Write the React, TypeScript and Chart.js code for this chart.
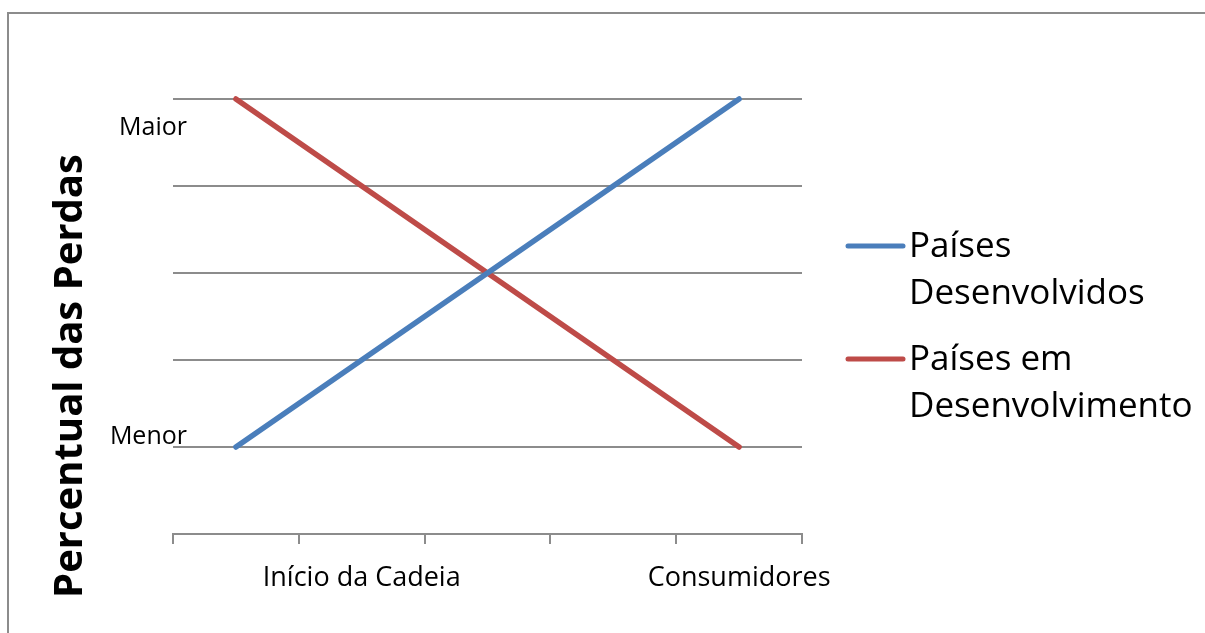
import { useEffect, useRef } from "react";
import { Chart, registerables } from "chart.js";

Chart.register(...registerables);

// Supply-chain stages (only the first and last stage carry a name)
const stages = ["", "Início da Cadeia", "", "", "Consumidores"];

// Relative share of losses along the chain
const developed = [1, 2, 3, 4, 5];
const developing = [5, 4, 3, 2, 1];

const seriesLines = [
  ["Países", "Desenvolvidos"],
  ["Países em", "Desenvolvimento"],
];
const seriesColors = ["#4a7ebb", "#be4b48"];

// Qualitative level labels next to the value axis
const levelLabels = ["Maior", "Menor"];
const levelValues = [5, 1];

const axisTitle = "Percentual das Perdas";

const FONT = "'Open Sans', 'DejaVu Sans', sans-serif";
const GRID = "#8c8c8c";

const decorations = {
  id: "decorations",
  afterDraw(chart: any) {
    const { ctx } = chart;
    const y = chart.scales.y;
    ctx.save();

    // frame of the chart object
    ctx.strokeStyle = GRID;
    ctx.lineWidth = 2;
    ctx.beginPath();
    ctx.moveTo(8, 633);
    ctx.lineTo(8, 13);
    ctx.lineTo(1205, 13);
    ctx.stroke();

    // rotated value-axis title
    ctx.fillStyle = "#000";
    ctx.font = `bold 40px ${FONT}`;
    ctx.translate(82, 376);
    ctx.rotate(-Math.PI / 2);
    ctx.textAlign = "center";
    ctx.textBaseline = "alphabetic";
    ctx.fillText(axisTitle, 0, 0);
    ctx.setTransform(1, 0, 0, 1, 0, 0);

    // level labels
    ctx.font = `25px ${FONT}`;
    ctx.textAlign = "right";
    ctx.textBaseline = "alphabetic";
    levelLabels.forEach((txt, i) => {
      const py = y.getPixelForValue(levelValues[i]);
      const dy = i === 0 ? 36 : -3;
      ctx.fillText(txt, 187, py + dy);
    });

    // legend with wrapped entries
    const legendY = [246, 359];
    ctx.font = `35px ${FONT}`;
    ctx.textAlign = "left";
    chart.data.datasets.forEach((ds: any, i: number) => {
      const cy = legendY[i];
      ctx.strokeStyle = ds.borderColor;
      ctx.lineWidth = 5;
      ctx.lineCap = "round";
      ctx.beginPath();
      ctx.moveTo(848, cy);
      ctx.lineTo(903, cy);
      ctx.stroke();
      ctx.fillStyle = "#000";
      seriesLines[i].forEach((line, j) => {
        ctx.fillText(line, 909, cy + 11 + j * 47);
      });
    });

    ctx.restore();
  },
};

export default function App() {
  const ref = useRef<HTMLCanvasElement | null>(null);

  useEffect(() => {
    if (!ref.current) return;
    const chart = new Chart(ref.current, {
      type: "line",
      data: {
        labels: stages,
        datasets: [
          {
            label: seriesLines[0].join(" "),
            data: developed,
            borderColor: seriesColors[0],
            backgroundColor: seriesColors[0],
            borderWidth: 5.5,
            borderCapStyle: "round",
            pointRadius: 0,
            clip: false,
          },
          {
            label: seriesLines[1].join(" "),
            data: developing,
            borderColor: seriesColors[1],
            backgroundColor: seriesColors[1],
            borderWidth: 5.5,
            borderCapStyle: "round",
            pointRadius: 0,
            clip: false,
          },
        ],
      },
      options: {
        animation: false,
        responsive: false,
        layout: { padding: { left: 173, right: 403, top: 99, bottom: 39 } },
        plugins: {
          legend: { display: false },
          tooltip: { enabled: false },
        },
        scales: {
          x: {
            offset: true,
            grid: {
              offset: true,
              drawOnChartArea: false,
              tickLength: 10,
              color: GRID,
              lineWidth: 2,
            },
            border: { color: GRID, width: 2 },
            ticks: {
              autoSkip: false,
              maxRotation: 0,
              color: "#000",
              font: { family: FONT, size: 27 },
              padding: 18,
            },
            afterFit: (s: any) => {
              s.height = 60;
            },
          },
          y: {
            min: 0,
            max: 5,
            ticks: { display: false, stepSize: 1 },
            grid: { color: GRID, lineWidth: 2, drawTicks: false },
            border: { display: false },
            afterFit: (s: any) => {
              s.width = 0;
            },
          },
        },
      },
      plugins: [decorations],
    });
    return () => chart.destroy();
  }, []);

  return (
    <div style={{ position: "fixed", left: 0, top: 0, width: 1205, height: 633, background: "#fff" }}>
      <canvas ref={ref} width={1205} height={633} style={{ display: "block" }} />
    </div>
  );
}
